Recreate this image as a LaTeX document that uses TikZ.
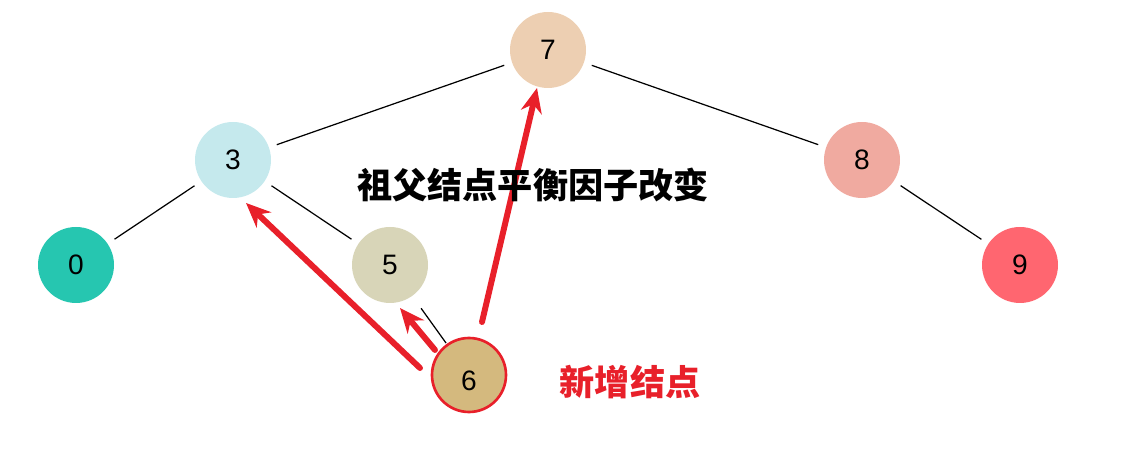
\documentclass[tikz,border=0pt]{standalone}
\usepackage{fontspec}
\setmainfont{Liberation Sans}
\newfontfamily\cjk{Noto Sans CJK SC}
\usetikzlibrary{arrows.meta}
\definecolor{cseven}{HTML}{EDCFB2}
\definecolor{cthree}{HTML}{C5E9ED}
\definecolor{ceight}{HTML}{F0AAA0}
\definecolor{czero}{HTML}{26C6B0}
\definecolor{cfive}{HTML}{D8D5B8}
\definecolor{cnine}{HTML}{FF6670}
\definecolor{csix}{HTML}{D4B97E}
\definecolor{cred}{HTML}{E8202A}
\tikzset{
  tn/.style={circle,minimum size=76*0.02cm,inner sep=0pt,font=\fontsize{16}{18}\selectfont,text depth=0pt},
  ed/.style={black,line width=0.7pt,shorten >=0.16cm,shorten <=0.16cm},
  ra/.style={cred,line width=3.4pt,-{Stealth[length=14pt,width=12pt]}},
}
\begin{document}
\begin{tikzpicture}[x=0.02cm,y=-0.02cm]
\useasboundingbox (0,0) rectangle (1143,475);
\node[tn,fill=cseven] (n7) at (548,50) {7};
\node[tn,fill=cthree] (n3) at (233,160) {3};
\node[tn,fill=ceight] (n8) at (862,160) {8};
\node[tn,fill=czero] (n0) at (76,265) {0};
\node[tn,fill=cfive] (n5) at (390,265) {5};
\node[tn,fill=cnine] (n9) at (1020,265) {9};
\node[tn,fill=csix,draw=cred,line width=1.5pt,minimum size=74*0.02cm] (n6) at (469,375) {\raisebox{-6pt}{6}};
\draw[ed] (n7) -- (n3);
\draw[ed] (n7) -- (n8);
\draw[ed] (n3) -- (n0);
\draw[ed] (n3) -- (n5);
\draw[ed,shorten <=0.3cm,shorten >=0.02cm] (n5) -- (n6);
\draw[ed] (n8) -- (n9);
\coordinate (a1) at (420,368);
\coordinate (b1) at (246,203);
\coordinate (a2) at (435,350);
\coordinate (b2) at (400,308);
\coordinate (a3) at (482,322);
\coordinate (b3) at (537,88);
\draw[ra,line cap=round] (a1) -- (b1);
\draw[ra,line cap=round] (a2) -- (b2);
\draw[ra,line cap=round] (a3) -- (b3);
\node[font=\cjk\bfseries\fontsize{20}{22}\selectfont] (t1) at (533,185) {祖父结点平衡因子改变};
\node[font=\cjk\bfseries\fontsize{20}{22}\selectfont,text=cred] (t2) at (630,382) {新增结点};
\end{tikzpicture}
\end{document}
